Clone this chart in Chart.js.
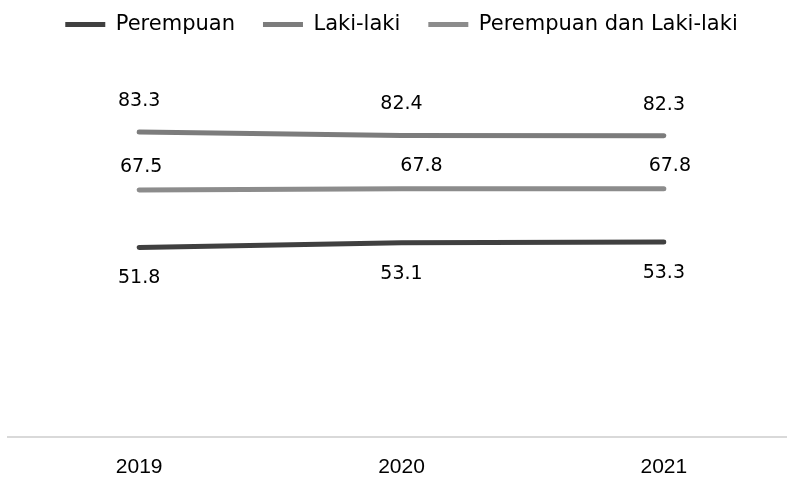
<!DOCTYPE html>
<html>
<head>
<meta charset="utf-8">
<script src="https://cdn.jsdelivr.net/npm/chart.js@4/dist/chart.umd.min.js"></script>
<style>
  html, body { margin: 0; padding: 0; background: #fff; overflow: hidden; }
  #wrap { width: 795px; height: 477px; }
</style>
</head>
<body>
<div id="wrap"><canvas id="chart"></canvas></div>
<script>
// data
const years = ['2019', '2020', '2021'];
const perempuan = [51.8, 53.1, 53.3];
const lakiLaki = [83.3, 82.4, 82.3];
const gabungan = [67.5, 67.8, 67.8];
const seriesNames = ['Perempuan', 'Laki-laki', 'Perempuan dan Laki-laki'];

// value labels, above or below each point
const valueLabels = {
    id: 'valueLabels',
    afterDatasetsDraw(chart) {
        const ctx = chart.ctx;
        ctx.save();
        ctx.font = '19px "DejaVu Sans", sans-serif';
        ctx.fillStyle = '#000';
        ctx.textAlign = 'center';
        ctx.textBaseline = 'middle';
        chart.data.datasets.forEach((ds, i) => {
            const meta = chart.getDatasetMeta(i);
            meta.data.forEach((pt, j) => {
                const dx = ds.labelDx ? ds.labelDx[j] : 0;
                ctx.fillText(ds.data[j].toFixed(1), pt.x + dx, pt.y + ds.labelOffset);
            });
        });
        ctx.restore();
    }
};

// extra room under the legend
const legendSpace = {
    id: 'legendSpace',
    beforeInit(chart) {
        const fit = chart.legend.fit;
        chart.legend.fit = function () {
            fit.call(this);
            this.height += 26;
        };
    }
};

const ctx = document.getElementById('chart').getContext('2d');
const chart = new Chart(ctx, {
    type: 'line',
    data: {
        labels: years,
        datasets: [{
            label: seriesNames[0],
            data: perempuan,
            borderColor: '#404040',
            backgroundColor: '#404040',
            borderWidth: 5,
            labelOffset: 31
        }, {
            label: seriesNames[1],
            data: lakiLaki,
            borderColor: '#7c7c7c',
            backgroundColor: '#7c7c7c',
            borderWidth: 5,
            labelOffset: -31
        }, {
            label: seriesNames[2],
            data: gabungan,
            borderColor: '#8c8c8c',
            backgroundColor: '#8c8c8c',
            borderWidth: 5,
            labelOffset: -23,
            labelDx: [2, 20, 6]
        }]
    },
    options: {
        responsive: true,
        maintainAspectRatio: false,
        animation: false,
        elements: {
            point: { radius: 0, hoverRadius: 0 },
            line: { tension: 0, borderCapStyle: 'round' }
        },
        layout: { padding: { left: 8, right: 0, top: -14, bottom: 0 } },
        plugins: {
            tooltip: { enabled: false },
            legend: {
                position: 'top',
                labels: {
                    usePointStyle: true,
                    pointStyle: 'line',
                    pointStyleWidth: 40,
                    boxHeight: 5,
                    color: '#000',
                    padding: 28,
                    font: { family: '"DejaVu Sans", sans-serif', size: 21 }
                }
            }
        },
        scales: {
            x: {
                offset: true,
                grid: { display: false },
                border: { display: true, color: '#d9d9d9', width: 2 },
                ticks: {
                    color: '#000',
                    padding: 10,
                    font: { family: '"Liberation Sans", sans-serif', size: 21 }
                },
                afterFit(scale) {
                    scale.height = 40;
                }
            },
            y: {
                display: false,
                min: 0,
                max: 100
            }
        }
    },
    plugins: [valueLabels, legendSpace]
});
</script>
</body>
</html>
